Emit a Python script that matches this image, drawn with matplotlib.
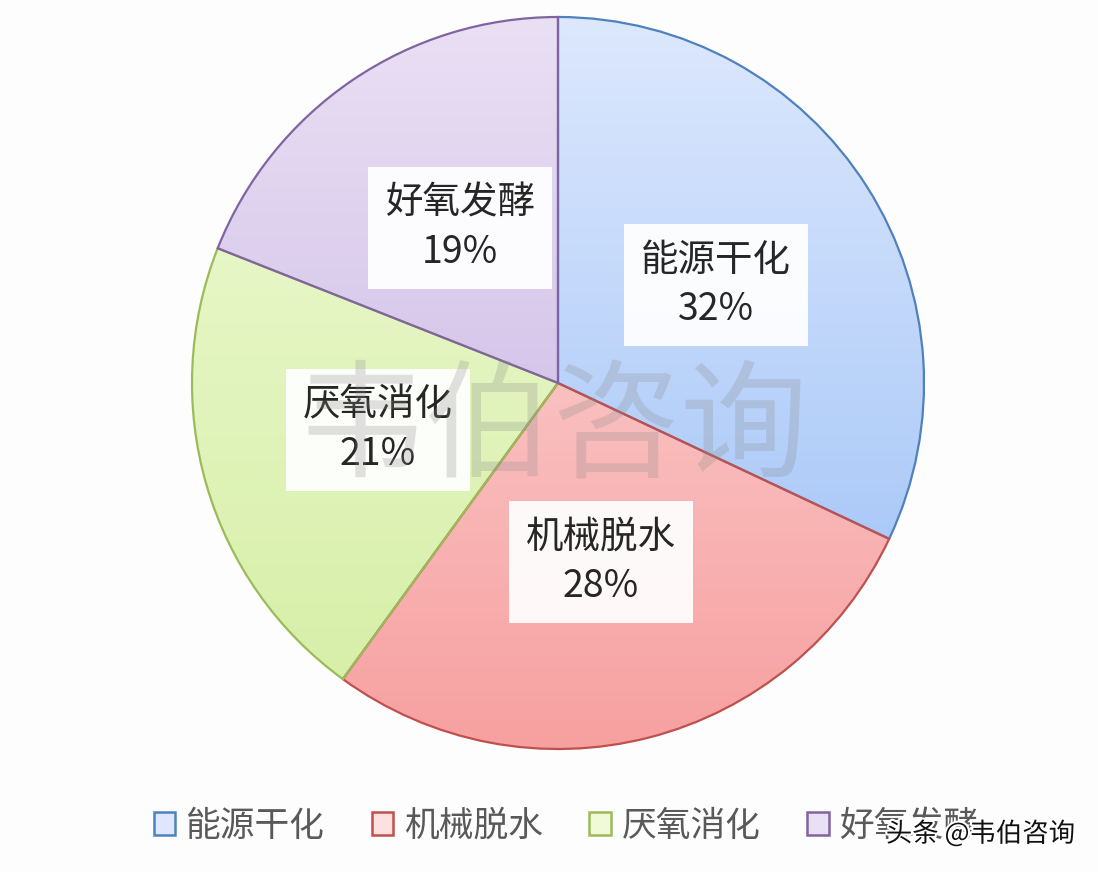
import matplotlib
matplotlib.use("Agg")
import matplotlib.pyplot as plt
import numpy as np
from matplotlib.colors import LinearSegmentedColormap
from matplotlib.patches import Rectangle
import matplotlib.patheffects as pe

plt.rcParams['font.family'] = ['Noto Sans CJK SC', 'DejaVu Sans']

categories = ['能源干化', '机械脱水', '厌氧消化', '好氧发酵']
values = [32, 28, 21, 19]
top_colors = ['#DDE8FD', '#FDE0E0', '#F0FAD6', '#EAE0F4']
bottom_colors = ['#98BEF6', '#F7A0A0', '#D4EEA4', '#C2ACE0']
edge_colors = ['#4F81BD', '#C0504D', '#9BBB59', '#8064A2']
label_pos = [(716, 587), (601, 310), (378, 442), (460, 644)]

W, H = 1098, 872
fig = plt.figure(figsize=(W / 100, H / 100), dpi=100)
fig.patch.set_facecolor('#FDFDFD')
ax = fig.add_axes([0, 0, 1, 1])

cx, cy, r = 558, 489, 366
wedges, _ = ax.pie(values, startangle=90, counterclock=False, radius=r,
                   center=(cx, cy), colors=top_colors,
                   wedgeprops=dict(linewidth=1.6), frame=True)

grad = np.linspace(0, 1, 256).reshape(-1, 1)
for w, tc, bc, ec in zip(wedges, top_colors, bottom_colors, edge_colors):
    cmap = LinearSegmentedColormap.from_list('g', [bc, tc])
    im = ax.imshow(grad, extent=[cx - r, cx + r, cy - r, cy + r], origin='lower',
                   cmap=cmap, aspect='auto', zorder=2, interpolation='bilinear')
    im.set_clip_path(w)
    w.set_facecolor('none')
    w.set_edgecolor(ec)
    w.set_zorder(3)

ax.set_xlim(0, W)
ax.set_ylim(0, H)
ax.set_aspect('auto')
ax.axis('off')

for cat, v, (x, y) in zip(categories, values, label_pos):
    ax.text(x, y, f'{cat}\n{v}%', ha='center', va='center', fontsize=27,
            color='#262626', linespacing=1.35, zorder=5,
            bbox=dict(boxstyle='square,pad=0.45', facecolor='white',
                      edgecolor='none', alpha=0.93))

# watermark
ax.text(553, 440, '韦伯咨询', ha='center', va='center', fontsize=92,
        color='#8A8A8A', alpha=0.25, zorder=6)

# legend
handles = [Rectangle((0, 0), 1, 1, facecolor=tc, edgecolor=ec, linewidth=1.8)
           for tc, ec in zip(top_colors, edge_colors)]
leg = fig.legend(handles, categories, loc='center', bbox_to_anchor=(566 / W, 1 - 826 / H),
                 ncol=4, frameon=False, fontsize=25, handlelength=0.62,
                 handleheight=0.62, handletextpad=0.3, columnspacing=1.35,
                 labelcolor='#595959')

fig.text(1075 / W, 1 - 834 / H, '头条 @韦伯咨询', ha='right', va='center',
         fontsize=19, color='#111111', zorder=10,
         path_effects=[pe.withStroke(linewidth=3, foreground='white')])

fig.savefig('out.png', dpi=100, facecolor=fig.get_facecolor())
